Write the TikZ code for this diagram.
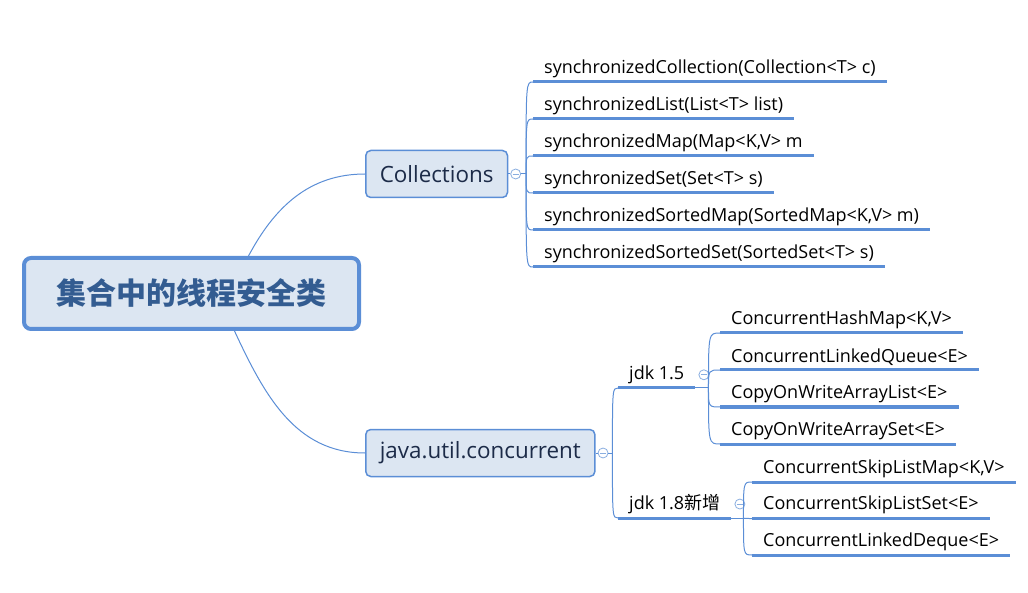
\documentclass[tikz,border=0pt]{standalone}
\usepackage{fontspec}
\setmainfont{Open Sans}
\newfontfamily\cjk{Noto Sans CJK SC}
\usetikzlibrary{positioning}
\definecolor{linec}{HTML}{5B8ED6}
\definecolor{foldc}{HTML}{8AAEE0}
\definecolor{boxfill}{HTML}{DCE6F2}
\definecolor{roottext}{HTML}{335C91}
\definecolor{subtext}{HTML}{1C2B48}

\begin{document}
\begin{tikzpicture}[x=1pt, y=1pt,
    root/.style={draw=linec, line width=4pt, fill=boxfill, rounded corners=7pt, minimum width=335pt, minimum height=71pt, font=\cjk\bfseries\fontsize{30}{33}\selectfont, text=roottext},
    sub/.style={draw=linec, line width=1.5pt, fill=boxfill, rounded corners=5pt, anchor=west, minimum height=47pt, inner xsep=14pt, font=\fontsize{22.4}{26}\selectfont, text=subtext},
    leaf/.style={anchor=south west, inner xsep=11pt, inner ysep=4pt, font=\fontsize{18}{21}\selectfont},
    uline/.style={draw=linec, line width=3pt},
    conn/.style={draw=linec, line width=1pt},
    fold/.style={circle, draw=foldc, line width=0.8pt, minimum size=10pt, inner sep=0pt, fill=white,
      path picture={\draw[foldc, line width=0.8pt] ([xshift=-3pt]path picture bounding box.center) -- ([xshift=3pt]path picture bounding box.center);}}]
  \useasboundingbox (0,0) rectangle (1028,-593);

  % Nodes
  \node[root] (root) at (191.5,-293.5) {集合中的线程安全类};
  \node[sub] (coll) at (365,-174) {Collections};
  \node[sub] (juc) at (365,-453) {java.util.concurrent};
  \node[fold, right=2pt of coll] (collfold) {};
  \node[fold, right=2pt of juc] (jucfold) {};

  \foreach \t [count=\i] in {synchronizedCollection(Collection<T> c), synchronizedList(List<T> list), {synchronizedMap(Map<K,V> m}, synchronizedSet(Set<T> s), {synchronizedSortedMap(SortedMap<K,V> m)}, synchronizedSortedSet(SortedSet<T> s)}
    \node[leaf] (s\i) at (533,-45-37*\i) {\t};

  \node[leaf] (jdk15) at (618,-388) {jdk 1.5};
  \node[leaf] (jdk18) at (618,-518) {jdk 1.8{\cjk 新增}};
  \node[fold, right=3pt of jdk15] (jdk15fold) {};
  \node[fold, right=3pt of jdk18] (jdk18fold) {};

  \foreach \t [count=\i] in {{ConcurrentHashMap<K,V>}, ConcurrentLinkedQueue<E>, CopyOnWriteArrayList<E>, CopyOnWriteArraySet<E>}
    \node[leaf] (a\i) at (720,-296-37*\i) {\t};
  \foreach \t [count=\i] in {{ConcurrentSkipListMap<K,V>}, ConcurrentSkipListSet<E>, ConcurrentLinkedDeque<E>}
    \node[leaf] (b\i) at (752,-445.5-36.5*\i) {\t};

  % Edges
  \draw[conn] ([xshift=57pt]root.north) to[out=62, in=180] (coll.west);
  \draw[conn] ([xshift=43pt]root.south) to[out=-65, in=180] (juc.west);

  \draw[conn] (coll.east) -- (collfold.west);
  \draw[conn] (collfold.east) -- ++(5,0) coordinate (cj);
  \foreach \i in {1,...,6}
    \draw[conn] (cj) .. controls (cj |- s\i.south west) .. (s\i.south west);

  \draw[conn] (juc.east) -- (jucfold.west);
  \draw[conn] (jucfold.east) -- ++(4,0) coordinate (jj);
  \foreach \n in {jdk15, jdk18}
    \draw[conn] (jj) .. controls (jj |- \n.south west) .. (\n.south west);

  \draw[conn] (jdk15.south east) -- ++(13,0) coordinate (j15);
  \foreach \i in {1,...,4}
    \draw[conn] (j15) .. controls (j15 |- a\i.south west) .. (a\i.south west);

  \draw[conn] (jdk18.south east) -- ++(12,0) coordinate (j18);
  \foreach \i in {1,...,3}
    \draw[conn] (j18) .. controls (j18 |- b\i.south west) .. (b\i.south west);

  % Underlines
  \foreach \n in {s1,s2,s3,s4,s5,s6,jdk15,jdk18,a1,a2,a3,a4,b1,b2,b3}
    \draw[uline] (\n.south west) -- (\n.south east);
\end{tikzpicture}
\end{document}
